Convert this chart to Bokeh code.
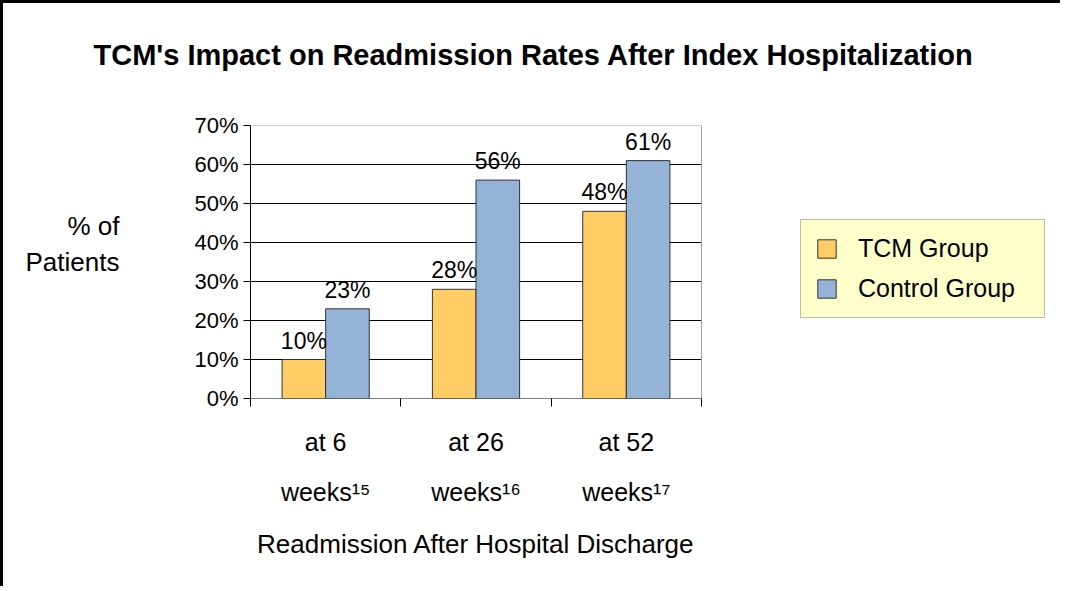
from bokeh.plotting import figure
from bokeh.models import (ColumnDataSource, Range1d, FixedTicker, NumeralTickFormatter,
                          LabelSet, Legend, LegendItem, LinearAxis)
from bokeh.core.properties import value
from bokeh.transform import dodge
from bokeh.embed import file_html
from bokeh.resources import INLINE

# ---- data ----
title_text = "TCM's Impact on Readmission Rates After Index Hospitalization"
series_names = ["TCM Group", "Control Group"]
tick_labels = ["at 6\nweeks\u00b9\u2075", "at 26\nweeks\u00b9\u2076", "at 52\nweeks\u00b9\u2077"]
tcm = [0.10, 0.28, 0.48]
control = [0.23, 0.56, 0.61]
y_ticks = [0.0, 0.1, 0.2, 0.3, 0.4, 0.5, 0.6, 0.7]
x_title = "Readmission After Hospital Discharge"
y_title = "% of\nPatients"

FONT = "Liberation Sans"
TCM_COLOR = "#FFCC66"
CTRL_COLOR = "#95B3D7"

n = len(tick_labels)
centers = [i + 0.5 for i in range(n)]
source = ColumnDataSource(dict(
    x=centers,
    tcm=tcm,
    control=control,
    tcm_lbl=[f"{v:.0%}" for v in tcm],
    control_lbl=[f"{v:.0%}" for v in control],
))

W, H = 1060, 586
FL, FT, FB = 247, 122, 395      # frame edges in canvas pixels
PLOT_R = 698                    # right edge of the bar area
MBR = 4
frame_w = W - MBR - FL
x_max = n * frame_w / (PLOT_R - FL)   # frame extends right to hold the legend
y_min, y_max = y_ticks[0], y_ticks[-1]

p = figure(width=W, height=H, output_backend="svg", toolbar_location=None,
           x_range=Range1d(0, x_max), y_range=Range1d(y_min, y_max),
           min_border_left=FL, min_border_right=MBR,
           min_border_top=FT, min_border_bottom=H - FB,
           background_fill_color="white", border_fill_color="white",
           styles={"border-left": "3px solid #000", "border-top": "3px solid #000"})

p.title.text = title_text + "\n"
p.title.text_font = FONT
p.title.text_font_size = "29px"
p.title.text_font_style = "bold"
p.title.text_color = "black"
p.title.align = "left"
p.title.offset = -157
p.title.standoff = 46

# plot-area grid, baseline and border (limited to the bar area)
gy = y_ticks[1:-1]
p.segment(x0=[0] * len(gy), x1=[n] * len(gy), y0=gy, y1=gy, line_color="black", line_width=1)
p.segment(x0=[0, 0], x1=[n, n], y0=[y_max, y_min], y1=[y_max, y_min],
          line_color=["#A0A0A0", "black"], line_width=1)
p.segment(x0=[n], x1=[n], y0=[y_min], y1=[y_max], line_color="#A0A0A0", line_width=1)

bw = 0.29
r_tcm = p.vbar(x=dodge("x", -bw / 2), top="tcm", width=bw, source=source,
               fill_color=TCM_COLOR, line_color="#333333", line_width=1)
r_ctrl = p.vbar(x=dodge("x", bw / 2), top="control", width=bw, source=source,
                fill_color=CTRL_COLOR, line_color="#333333", line_width=1)

for col, lbl, off in (("tcm", "tcm_lbl", -bw / 2), ("control", "control_lbl", bw / 2)):
    ls = LabelSet(x=dodge("x", off), y=col, text=lbl, source=source,
                  text_align="center", text_baseline="bottom", y_offset=6,
                  text_font=value(FONT), text_font_size=value("23px"),
                  text_color=value("black"))
    p.add_layout(ls)

# y axis
p.yaxis.ticker = FixedTicker(ticks=y_ticks)
p.yaxis.formatter = NumeralTickFormatter(format="0%")
p.yaxis.major_label_text_font = FONT
p.yaxis.major_label_text_font_size = "22px"
p.yaxis.major_label_text_color = "black"
p.yaxis.major_tick_out = 7
p.yaxis.major_tick_in = 0
p.yaxis.minor_tick_line_color = None
p.yaxis.axis_line_color = "black"
p.yaxis.major_tick_line_color = "black"
p.yaxis.axis_label = y_title + "\n"
p.yaxis.axis_label_orientation = "horizontal"
p.yaxis.axis_label_text_font = FONT
p.yaxis.axis_label_text_font_size = "26px"
p.yaxis.axis_label_text_font_style = "normal"
p.yaxis.axis_label_text_color = "black"
p.yaxis.axis_label_standoff = 72

# x axis: category ticks at the group boundaries, labels at group centres
p.xaxis.ticker = FixedTicker(ticks=centers, minor_ticks=list(range(n + 1)))
p.xaxis.major_label_overrides = {c: t for c, t in zip(centers, tick_labels)}
p.xaxis.major_tick_line_color = None
p.xaxis.minor_tick_out = 8
p.xaxis.minor_tick_in = 0
p.xaxis.minor_tick_line_color = "black"
p.xaxis.axis_line_color = None
p.xaxis.major_label_text_font = FONT
p.xaxis.major_label_text_font_size = "25px"
p.xaxis.major_label_text_color = "black"
p.xaxis.major_label_text_line_height = 1.8
p.xaxis.major_label_standoff = 21

# x title, centred under the bar area
title_axis = LinearAxis(ticker=FixedTicker(ticks=[n / 2], minor_ticks=[]),
                        major_label_overrides={n / 2: x_title},
                        axis_line_color=None, major_tick_line_color=None,
                        minor_tick_line_color=None,
                        major_label_text_font=FONT, major_label_text_font_size="26px",
                        major_label_text_color="black", major_label_standoff=14)
p.add_layout(title_axis, "below")

p.xgrid.grid_line_color = None
p.ygrid.grid_line_color = None
p.outline_line_color = None

legend = Legend(items=[LegendItem(label=series_names[0], renderers=[r_tcm]),
                       LegendItem(label=series_names[1], renderers=[r_ctrl])],
                location=(550, 80),
                background_fill_color="#FFFFCC", background_fill_alpha=1,
                border_line_color="#808080", border_line_width=1,
                label_text_font=FONT, label_text_font_size="25px",
                label_text_color="black",
                glyph_width=23, glyph_height=23, label_height=20,
                label_standoff=20, padding=14, spacing=11, margin=0,
                label_width=172)
p.add_layout(legend, "center")

open("out.html", "w").write(file_html(p, INLINE))
